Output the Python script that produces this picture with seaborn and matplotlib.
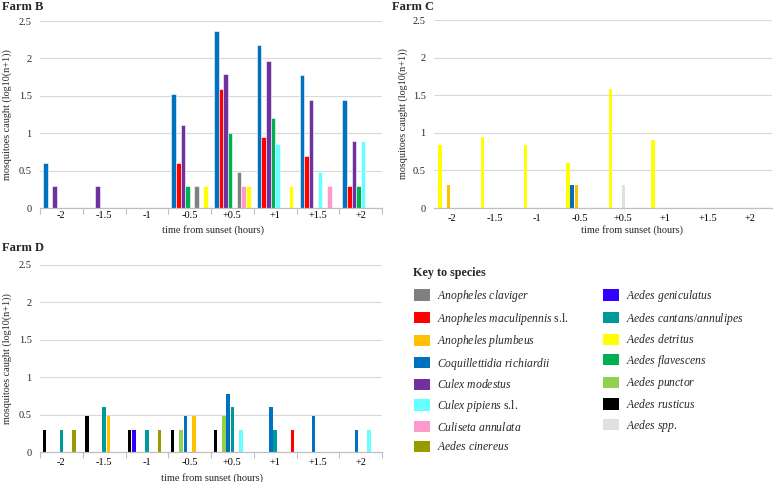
import numpy as np
import pandas as pd
import matplotlib
matplotlib.use("Agg")
import matplotlib.pyplot as plt
import seaborn as sns
from matplotlib.patches import Patch

nan = np.nan

# ---------------- data ----------------
times = ["-2", "-1.5", "-1", "-0.5", "+0.5", "+1", "+1.5", "+2"]
ytick_vals = [0, 0.5, 1, 1.5, 2, 2.5]
ytick_labels = ["0", "0.5", "1", "1.5", "2", "2.5"]

species = ["Anopheles claviger", "Anopheles maculipennis s.l.", "Anopheles plumbeus",
           "Coquillettidia richiardii", "Culex modestus", "Culex pipiens s.l.",
           "Culiseta annulata", "Aedes cinereus", "Aedes geniculatus",
           "Aedes cantans/annulipes", "Aedes detritus", "Aedes flavescens",
           "Aedes punctor", "Aedes rusticus", "Aedes spp."]
species_colors = ["#808080", "#ff0000", "#ffc000", "#0070c0", "#7030a0", "#66ffff",
                  "#ff99cc", "#999900", "#3300ff", "#009999", "#ffff00", "#00b050",
                  "#92d050", "#000000", "#e0e0e0"]

# Farm B
b_coquillettidia = [0.60, nan, nan, 1.52, 2.36, 2.18, 1.78, 1.45]
b_maculipennis = [nan, nan, nan, 0.60, 1.59, 0.95, 0.70, 0.30]
b_modestus = [0.30, 0.30, nan, 1.11, 1.79, 1.97, 1.45, 0.90]
b_flavescens = [nan, nan, nan, 0.30, 1.00, 1.20, nan, 0.30]
b_pipiens = [nan, nan, nan, nan, nan, 0.85, 0.48, 0.90]
b_claviger = [nan, nan, nan, 0.30, 0.48, nan, nan, nan]
b_culiseta = [nan, nan, nan, nan, 0.30, nan, 0.30, nan]
b_detritus = [nan, nan, nan, 0.30, 0.30, 0.30, nan, nan]

# Farm C
c_detritus = [0.84, 0.95, 0.84, 0.60, 1.58, 0.90, nan, nan]
c_coquillettidia = [nan, nan, nan, 0.30, nan, nan, nan, nan]
c_plumbeus = [0.30, nan, nan, 0.30, nan, nan, nan, nan]
c_aedes_spp = [nan, nan, nan, nan, 0.30, nan, nan, nan]

# Farm D
d_rusticus = [0.30, 0.48, 0.30, 0.30, 0.30, nan, nan, nan]
d_geniculatus = [nan, nan, 0.30, nan, nan, nan, nan, nan]
d_punctor = [nan, nan, nan, 0.30, 0.48, nan, nan, nan]
d_coquillettidia = [nan, nan, nan, 0.48, 0.77, 0.60, 0.48, 0.30]
d_cantans = [0.30, 0.60, 0.30, nan, 0.60, 0.30, nan, nan]
d_plumbeus = [nan, 0.48, nan, 0.48, nan, nan, nan, nan]
d_pipiens = [nan, nan, nan, nan, 0.30, nan, nan, 0.30]
d_cinereus = [0.30, nan, 0.30, nan, nan, nan, nan, nan]
d_maculipennis = [nan, nan, nan, nan, nan, 0.30, nan, nan]

farm_b = [("Coquillettidia richiardii", b_coquillettidia),
          ("Anopheles maculipennis s.l.", b_maculipennis),
          ("Culex modestus", b_modestus),
          ("Aedes flavescens", b_flavescens),
          ("Culex pipiens s.l.", b_pipiens),
          ("Anopheles claviger", b_claviger),
          ("Culiseta annulata", b_culiseta),
          ("Aedes detritus", b_detritus)]
farm_c = [("Aedes detritus", c_detritus),
          ("Coquillettidia richiardii", c_coquillettidia),
          ("Anopheles plumbeus", c_plumbeus),
          ("Aedes spp.", c_aedes_spp)]
farm_d = [("Aedes rusticus", d_rusticus),
          ("Aedes geniculatus", d_geniculatus),
          ("Aedes punctor", d_punctor),
          ("Coquillettidia richiardii", d_coquillettidia),
          ("Aedes cantans/annulipes", d_cantans),
          ("Anopheles plumbeus", d_plumbeus),
          ("Culex pipiens s.l.", d_pipiens),
          ("Aedes cinereus", d_cinereus),
          ("Anopheles maculipennis s.l.", d_maculipennis)]

# ---------------- style ----------------
sns.set_theme(style="white")
plt.rcParams["font.family"] = ["Liberation Serif", "DejaVu Serif"]
plt.rcParams["mathtext.fontset"] = "custom"
plt.rcParams["mathtext.it"] = "Liberation Serif:italic"
plt.rcParams["mathtext.rm"] = "Liberation Serif"

palette = dict(zip(species, species_colors))
W, H = 778, 482


def long_df(series):
    rows = []
    for name, vals in series:
        for t, v in zip(times, vals):
            if not np.isnan(v):
                rows.append({"time": t, "species": name, "value": v})
    return pd.DataFrame(rows)


def panel(rect, series, width, gap, lw, xlim, tick_shift, minor, tick_pad,
          ylab_x, xlab_x, xlab_y):
    ax = fig.add_axes(rect)
    df = long_df(series)
    sns.barplot(data=df, x="time", y="value", hue="species", order=times,
                hue_order=[s for s, _ in series], palette=palette, width=width,
                gap=gap, dodge=True, errorbar=None, legend=False, saturation=1,
                edgecolor="white", linewidth=lw, ax=ax)
    ax.set_ylim(0, 2.5)
    ax.set_xlim(*xlim)
    ax.set_yticks(ytick_vals)
    ax.set_yticklabels(ytick_labels)
    ax.set_xticks(np.arange(len(times)) + tick_shift)
    ax.set_xticklabels(times)
    if minor:
        ax.set_xticks(np.arange(-0.5, len(times), 1.0), minor=True)
        ax.tick_params(axis="x", which="minor", length=4, width=0.8,
                       color="#bfbfbf", direction="out", bottom=True)
    ax.tick_params(axis="x", which="major", length=0, labelsize=7.5,
                   pad=tick_pad, colors="#000000")
    ax.tick_params(axis="y", length=0, labelsize=7.5, pad=6)
    ax.yaxis.grid(True, color="#d9d9d9", lw=0.8)
    ax.set_axisbelow(True)
    for s in ["left", "top", "right"]:
        ax.spines[s].set_visible(False)
    ax.spines["bottom"].set_color("#bfbfbf")
    ax.spines["bottom"].set_linewidth(0.9)
    ax.set_ylabel("mosquitoes caught (log10(n+1))", fontsize=7.3)
    ax.yaxis.set_label_coords(ylab_x, 0.5)
    ax.set_xlabel("time from sunset (hours)", fontsize=7.5)
    ax.xaxis.set_label_coords(xlab_x, xlab_y)
    return ax


fig = plt.figure(figsize=(W / 100, H / 100), dpi=100)

panel([40 / W, 1 - 208 / H, 342 / W, 187 / H], farm_b, 0.85, 0.0, 0.4,
      (-0.5, 7.5), 0.0, True, 2.0, -0.082, 0.506, -0.09)
panel([434 / W, 1 - 208 / H, 338 / W, 188 / H], farm_c, 0.4, 0.2, 0,
      (-0.29, 7.64), 0.13, False, 4.5, -0.077, 0.586, -0.09)
panel([40 / W, 1 - 452 / H, 342 / W, 187 / H], farm_d, 0.9, 0.2, 0,
      (-0.5, 7.5), 0.0, True, 4.5, -0.082, 0.503, -0.11)

fig.text(2 / W, 1 - 1 / H, "Farm B", fontsize=9, fontweight="bold", va="top", ha="left")
fig.text(392 / W, 1 - 1 / H, "Farm C", fontsize=9, fontweight="bold", va="top", ha="left")
fig.text(2 / W, 1 - 242 / H, "Farm D", fontsize=9, fontweight="bold", va="top", ha="left")
fig.text(413 / W, 1 - 267 / H, "Key to species", fontsize=8.7, fontweight="bold",
         va="top", ha="left")


def fmt(name):
    if name.endswith(" s.l."):
        base = name[:-5].replace(" ", r"\ ")
        return r"$\mathit{" + base + r"}$ s.l."
    return r"$\mathit{" + name.replace(" ", r"\ ") + r"}$"


handles = [Patch(facecolor=c, edgecolor="none") for c in species_colors]
labels = [fmt(s) for s in species]
common = dict(frameon=False, fontsize=8.4, handlelength=1.37, handleheight=1.11,
              handletextpad=0.6, labelspacing=0.565, borderpad=0, borderaxespad=0,
              loc="upper left")
fig.legend(handles[:8], labels[:8], bbox_to_anchor=(414 / W, 1 - 288 / H), **common)
fig.legend(handles[8:], labels[8:], bbox_to_anchor=(603 / W, 1 - 288 / H), **common)

fig.savefig("out.png", dpi=100)
